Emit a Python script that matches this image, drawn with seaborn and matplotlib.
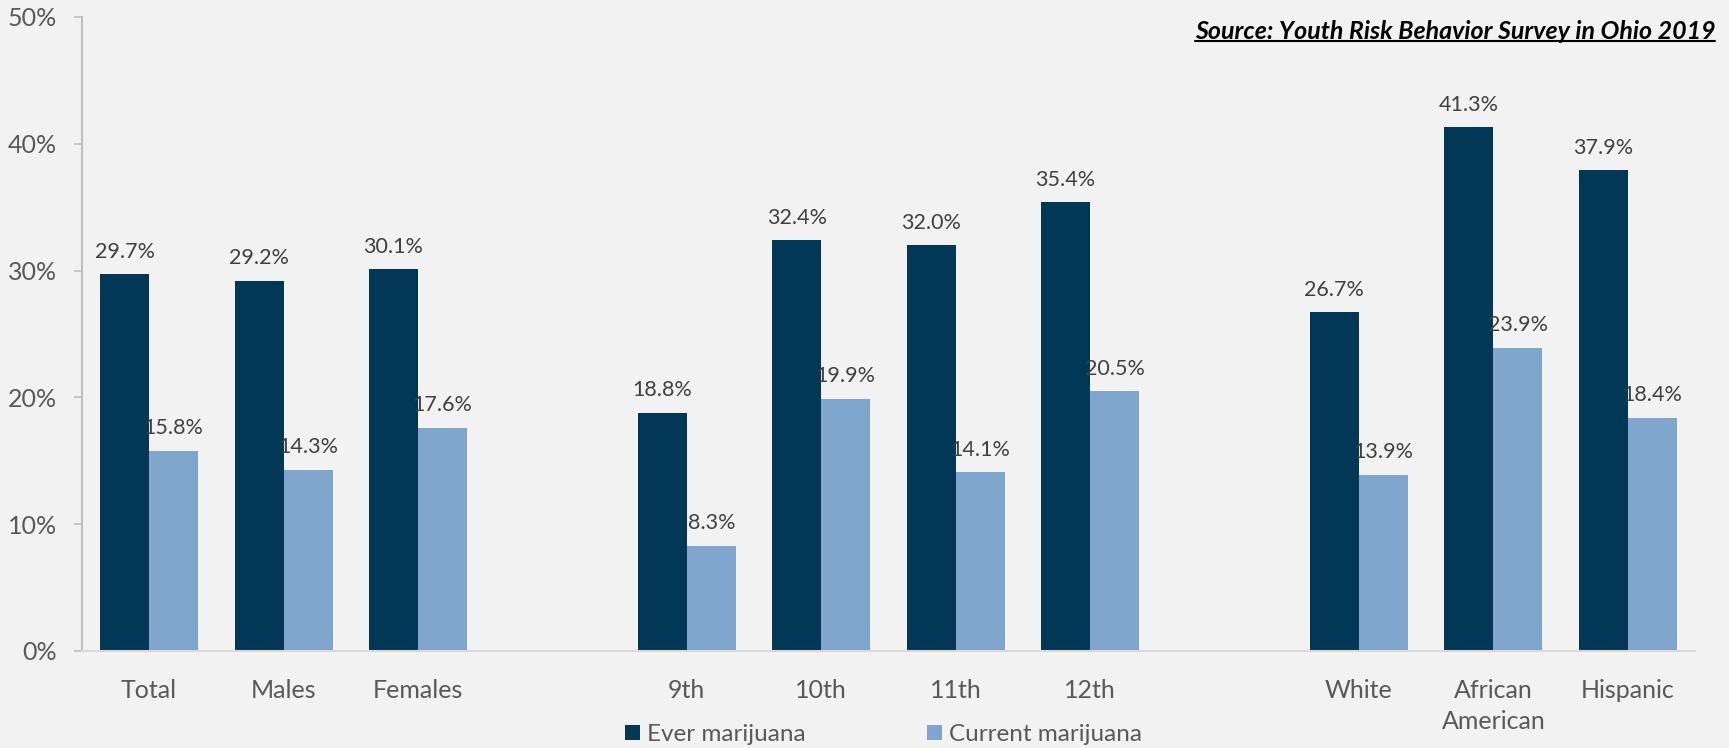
import pandas as pd
import matplotlib.pyplot as plt
import matplotlib.lines as mlines
import seaborn as sns

# categories (blank slots separate the three groups)
categories = ['Total', 'Males', 'Females', ' ', '9th', '10th', '11th', '12th', '  ',
              'White', 'African\nAmerican', 'Hispanic']
shown = ['Total', 'Males', 'Females', '9th', '10th', '11th', '12th',
         'White', 'African\nAmerican', 'Hispanic']
ever = [29.7, 29.2, 30.1, 18.8, 32.4, 32.0, 35.4, 26.7, 41.3, 37.9]
current = [15.8, 14.3, 17.6, 8.3, 19.9, 14.1, 20.5, 13.9, 23.9, 18.4]
series = ['Ever marijuana', 'Current marijuana']
yticks = [0, 10, 20, 30, 40, 50]

df = pd.DataFrame({
    'Group': shown * 2,
    'Measure': [series[0]] * len(ever) + [series[1]] * len(current),
    'Value': ever + current,
})

sns.set_style('white')
plt.rcParams['font.family'] = ['Lato', 'DejaVu Sans']
bg = '#F2F2F2'
grey = '#595959'

fig = plt.figure(figsize=(17.29, 7.48), dpi=100, facecolor=bg)
ax = fig.add_axes([0.0474, 0.1297, 0.9329, 0.8476])
ax.set_facecolor(bg)

sns.barplot(data=df, x='Group', y='Value', hue='Measure', order=categories,
            hue_order=series, palette=['#033756', '#81A6CD'], width=0.73,
            saturation=1, errorbar=None, ax=ax, legend=True, linewidth=0)

for c in ax.containers:
    ax.bar_label(c, fmt='%.1f%%', padding=9, fontsize=15.5, color='#404040')

ax.set_ylim(0, 50)
ax.set_yticks(yticks)
ax.set_yticklabels([f'{t}%' for t in yticks])
ax.set_xlim(-0.5, len(categories) - 0.5)
ax.set_xlabel('')
ax.set_ylabel('')
ax.tick_params(axis='y', length=6, width=1.2, color='#BFBFBF', pad=12,
               labelsize=18, labelcolor=grey, left=True)
ax.tick_params(axis='x', length=0, pad=20, labelsize=18, labelcolor=grey)
for lbl in ax.get_xticklabels():
    lbl.set_linespacing(1.42)

sns.despine(ax=ax, top=True, right=True)
ax.spines['left'].set_color('#BFBFBF')
ax.spines['left'].set_linewidth(1.5)
ax.spines['bottom'].set_color('#D9D9D9')
ax.spines['bottom'].set_linewidth(1.5)

ax.legend_.remove()
handles, labels = ax.get_legend_handles_labels()
fig.legend(handles[:2], labels[:2], loc='center', bbox_to_anchor=(0.511, 0.018),
           ncol=2, frameon=False, fontsize=17.5, labelcolor=grey,
           handlelength=0.6, handleheight=0.6, handletextpad=0.3,
           columnspacing=5.0)

src = fig.text(0.992, 0.958, 'Source: Youth Risk Behavior Survey in Ohio 2019',
               ha='right', va='center', fontsize=18, fontweight='bold',
               fontstyle='italic', color='black')
fig.canvas.draw()
bb = src.get_window_extent().transformed(fig.transFigure.inverted())
fig.add_artist(mlines.Line2D([bb.x0, bb.x1], [bb.y0 + 0.002, bb.y0 + 0.002],
                             transform=fig.transFigure, color='black', lw=1.5))

fig.savefig('out.png', dpi=100, facecolor=bg)
